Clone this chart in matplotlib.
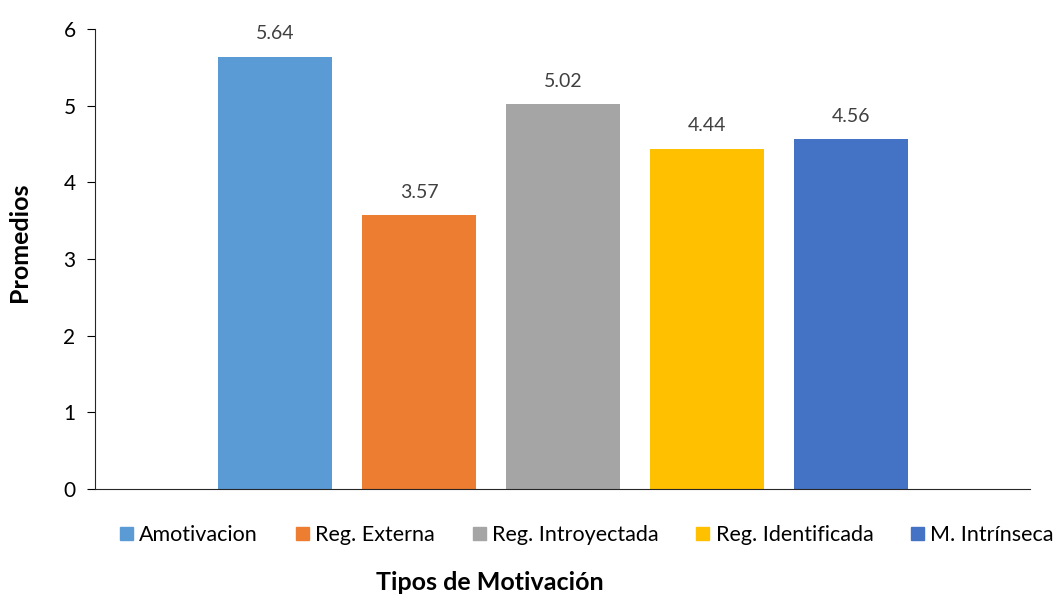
import matplotlib.pyplot as plt
from matplotlib.patches import Patch

categorias = ["Amotivacion", "Reg. Externa", "Reg. Introyectada", "Reg. Identificada", "M. Intrínseca"]
promedios = [5.64, 3.57, 5.02, 4.44, 4.56]
colores = ["#5B9BD5", "#ED7D31", "#A5A5A5", "#FFC000", "#4472C4"]

plt.rcParams['font.family'] = ['Lato', 'DejaVu Sans']

fig = plt.figure(figsize=(10.57, 5.95), dpi=100)
ax = fig.add_axes([95/1057, 106/595, 935/1057, 460/595])

x = range(len(categorias))
barras = ax.bar(x, promedios, width=0.79, color=colores)

# etiquetas de valor sobre cada barra
for b, v in zip(barras, promedios):
    ax.text(b.get_x() + b.get_width()/2, v + 0.19, f"{v:.2f}", ha='center', va='bottom',
            fontsize=14, color='#404040')

ax.set_xlim(-1.25, 5.24)
ax.set_ylim(0, 6)
ax.set_yticks(range(7))
ax.tick_params(axis='y', labelsize=15, length=6, pad=8, colors='black')
ax.set_xticks([])
for s in ['top', 'right']:
    ax.spines[s].set_visible(False)
ax.spines['left'].set_color('#262626')
ax.spines['bottom'].set_color('#262626')

fig.text(20/1057, 1 - 242/595, "Promedios", rotation=90, ha='center', va='center',
         fontsize=18, fontweight='bold')
fig.text(490/1057, 1 - 583/595, "Tipos de Motivación", ha='center', va='center',
         fontsize=18, fontweight='bold')

handles = [Patch(color=c) for c in colores]
fig.legend(handles, categorias, loc='center', bbox_to_anchor=(587/1057, 1 - 535/595), ncol=5,
           frameon=False, fontsize=15.5, handlelength=0.6, handleheight=0.6,
           handletextpad=0.3, columnspacing=1.75, borderpad=0, borderaxespad=0)

fig.savefig("out.png", dpi=100)
